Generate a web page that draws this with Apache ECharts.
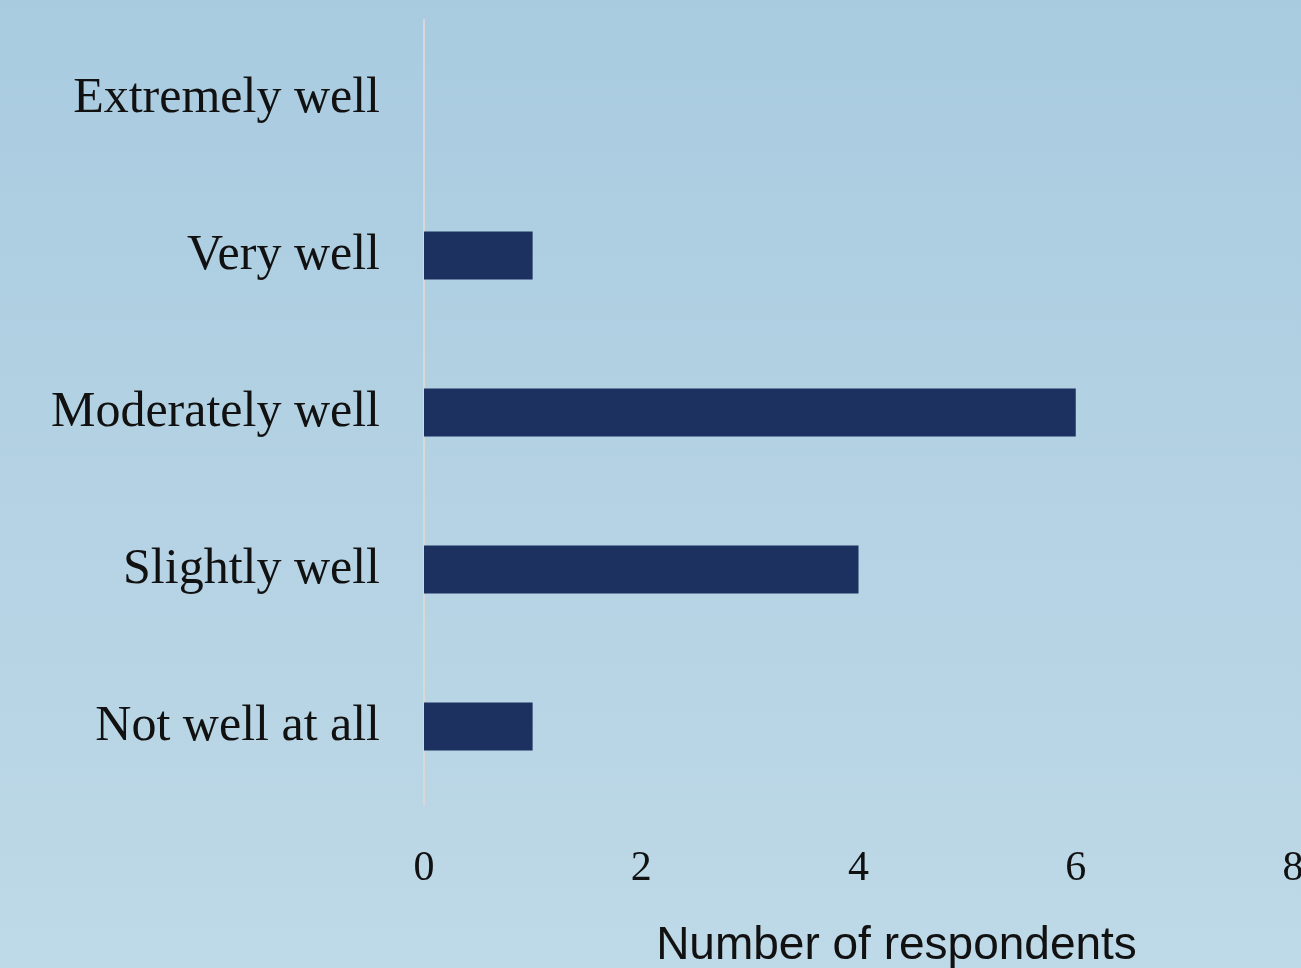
<!DOCTYPE html>
<html>
<head>
<meta charset="utf-8">
<script src="https://cdn.jsdelivr.net/npm/echarts@6/dist/echarts.min.js"></script>
<style>
    html, body { margin: 0; padding: 0; }
    #chart { width: 1301px; height: 968px; }
</style>
</head>
<body>
<div id="chart"></div>
<script>
    // categories top to bottom as shown
    var categories = ['Extremely well', 'Very well', 'Moderately well', 'Slightly well', 'Not well at all'];
    var respondents = [0, 1, 6, 4, 1];
    var xTicks = [0, 2, 4, 6, 8];

    var chart = echarts.init(document.getElementById('chart'));

    chart.setOption({
        backgroundColor: new echarts.graphic.LinearGradient(0, 0, 0, 1, [
            { offset: 0, color: '#a9cbe0' },
            { offset: 1, color: '#bed9e7' }
        ]),
        animation: false,
        grid: { left: 424, right: 8, top: 20, bottom: 163, containLabel: false, outerBoundsMode: 'none' },
        xAxis: {
            type: 'value',
            min: xTicks[0],
            max: xTicks[xTicks.length - 1],
            interval: 2,
            axisLine: { show: false },
            axisTick: { show: false },
            splitLine: { show: false },
            axisLabel: {
                margin: 43,
                color: '#111',
                fontFamily: 'Liberation Serif',
                fontSize: 42
            },
            name: 'Number of respondents',
            nameLocation: 'middle',
            nameGap: 118,
            nameTextStyle: {
                color: '#111',
                fontFamily: 'Liberation Sans',
                fontSize: 46,
                padding: [0, 0, 0, 76]
            }
        },
        yAxis: {
            type: 'category',
            inverse: true,
            data: categories,
            axisLine: { show: true, lineStyle: { color: '#d8d8d8', width: 2 } },
            axisTick: { show: false },
            axisLabel: {
                margin: 44,
                color: '#111',
                fontFamily: 'Liberation Serif',
                fontSize: 50
            }
        },
        series: [{
            type: 'bar',
            data: respondents,
            barWidth: 48,
            itemStyle: { color: '#1c3160' }
        }]
    });
</script>
</body>
</html>
